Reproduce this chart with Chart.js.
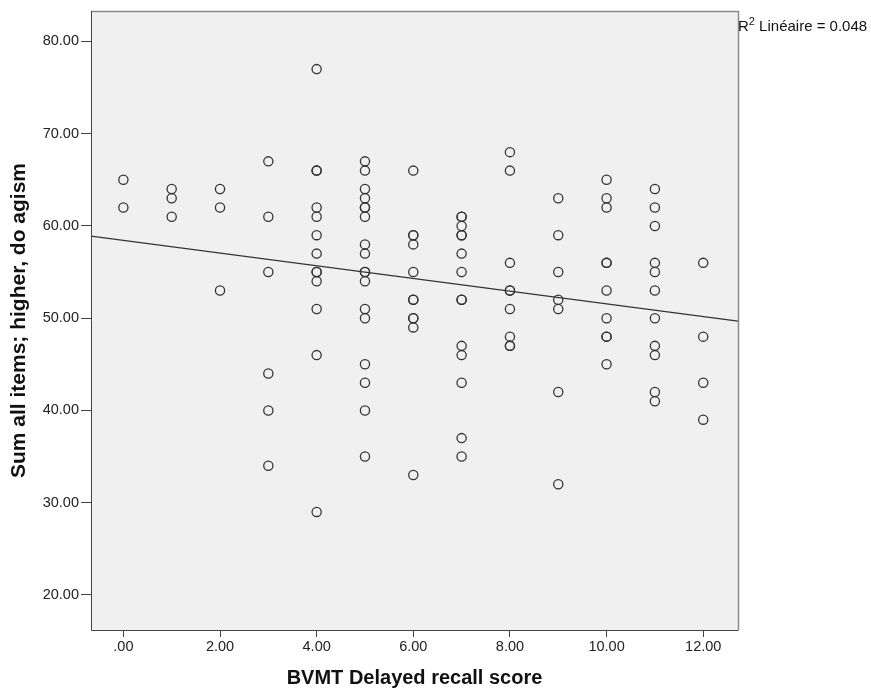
<!DOCTYPE html>
<html>
<head>
<meta charset="utf-8">
<script src="https://cdn.jsdelivr.net/npm/chart.js@4.4.1/dist/chart.umd.min.js"></script>
<style>
  html, body { margin: 0; padding: 0; background: #ffffff; }
  #wrap { width: 871px; height: 694px; position: relative; }
</style>
</head>
<body>
<div id="wrap"><canvas id="c" width="871" height="694"></canvas></div>
<script>
// BVMT delayed recall score (x) against ageism sum score (y), grouped by recall score
const recallScores = [0, 1, 2, 3, 4, 5, 6, 7, 8, 9, 10, 11, 12];
const ageismByScore = [
  [65, 62],
  [64, 63, 61],
  [64, 62, 53],
  [67, 61, 55, 44, 40, 34],
  [77, 66, 66, 62, 61, 59, 57, 55, 55, 54, 51, 46, 29],
  [67, 66, 64, 63, 62, 62, 61, 58, 57, 55, 55, 54, 51, 50, 45, 43, 40, 35],
  [66, 59, 59, 58, 55, 52, 52, 50, 50, 49, 33],
  [61, 61, 60, 59, 59, 57, 55, 52, 52, 47, 46, 43, 37, 35],
  [68, 66, 56, 53, 53, 51, 48, 47, 47],
  [63, 59, 55, 52, 51, 42, 32],
  [65, 63, 62, 56, 56, 53, 50, 48, 48, 45],
  [64, 62, 60, 56, 55, 53, 50, 47, 46, 42, 41],
  [56, 48, 43, 39]
];
const xTickValues = [0, 2, 4, 6, 8, 10, 12];
const yTickValues = [20, 30, 40, 50, 60, 70, 80];
const xTitle = 'BVMT Delayed recall score';
const yTitle = 'Sum all items; higher, do agism';
const fitLabel = 'Linéaire = 0.048';

const X_MIN = -0.67, X_MAX = 12.72, Y_MIN = 16.2, Y_MAX = 83.3;
const FONT = '"Liberation Sans", Arial, sans-serif';

const points = [];
recallScores.forEach((s, i) => ageismByScore[i].forEach(v => points.push({ x: s, y: v })));

// ordinary least squares fit line
const n = points.length;
const mx = points.reduce((a, p) => a + p.x, 0) / n;
const my = points.reduce((a, p) => a + p.y, 0) / n;
let sxy = 0, sxx = 0;
points.forEach(p => { sxy += (p.x - mx) * (p.y - my); sxx += (p.x - mx) ** 2; });
const slope = sxy / sxx;
const intercept = my - slope * mx;
const fitLine = [
  { x: X_MIN, y: intercept + slope * X_MIN },
  { x: X_MAX, y: intercept + slope * X_MAX }
];

const fmt = v => {
  const s = Number(v).toFixed(2);
  return s.startsWith('0.') ? s.slice(1) : s;
};

const plotFrame = {
  id: 'plotFrame',
  beforeDraw(chart) {
    const { ctx, chartArea: a } = chart;
    ctx.save();
    ctx.fillStyle = '#f0f0f0';
    ctx.fillRect(a.left, a.top, a.right - a.left, a.bottom - a.top);
    ctx.restore();
  },
  afterDraw(chart) {
    const { ctx, chartArea: a } = chart;
    ctx.save();
    ctx.strokeStyle = '#8a8a8a';
    ctx.lineWidth = 1.5;
    ctx.beginPath();
    ctx.moveTo(a.left, a.top + 0.5);
    ctx.lineTo(a.right + 0.5, a.top + 0.5);
    ctx.lineTo(a.right + 0.5, a.bottom);
    ctx.stroke();
    ctx.strokeStyle = '#444';
    ctx.lineWidth = 1;
    ctx.beginPath();
    ctx.moveTo(a.left + 0.5, a.top);
    ctx.lineTo(a.left + 0.5, a.bottom + 0.5);
    ctx.lineTo(a.right + 0.5, a.bottom + 0.5);
    ctx.stroke();
    // R² annotation
    ctx.fillStyle = '#111';
    ctx.textBaseline = 'alphabetic';
    ctx.font = '15px ' + FONT;
    const x0 = a.right, y0 = a.top + 20;
    ctx.fillText('R', x0, y0);
    const rw = ctx.measureText('R').width;
    ctx.font = '11px ' + FONT;
    ctx.fillText('2', x0 + rw, y0 - 6);
    const sw = ctx.measureText('2').width;
    ctx.font = '15px ' + FONT;
    ctx.fillText(' ' + fitLabel, x0 + rw + sw, y0);
    ctx.restore();
  }
};

new Chart(document.getElementById('c'), {
  type: 'scatter',
  data: {
    datasets: [
      {
        data: points,
        pointStyle: 'circle',
        pointRadius: 4.6,
        pointBorderWidth: 1.3,
        pointBorderColor: '#333',
        pointBackgroundColor: 'rgba(0,0,0,0)',
        order: 1
      },
      {
        type: 'line',
        data: fitLine,
        borderColor: '#333',
        borderWidth: 1.2,
        pointRadius: 0,
        fill: false,
        order: 2
      }
    ]
  },
  options: {
    responsive: false,
    animation: false,
    devicePixelRatio: 1,
    layout: { padding: { top: 11, right: 133, left: 0, bottom: 0 } },
    plugins: { legend: { display: false }, tooltip: { enabled: false } },
    scales: {
      x: {
        type: 'linear',
        min: X_MIN, max: X_MAX,
        afterBuildTicks: s => { s.ticks = xTickValues.map(v => ({ value: v })); },
        afterFit: s => { s.height = 64; },
        border: { display: false },
        grid: { drawOnChartArea: false, drawTicks: true, tickLength: 7, color: '#444', tickWidth: 1 },
        ticks: {
          callback: v => fmt(v),
          color: '#222',
          padding: 1,
          maxRotation: 0,
          font: { family: FONT, size: 14.5 }
        },
        title: {
          display: true,
          text: xTitle,
          color: '#111',
          padding: { top: 4, bottom: 4 },
          font: { family: FONT, size: 20, weight: 'bold' }
        }
      },
      y: {
        type: 'linear',
        min: Y_MIN, max: Y_MAX,
        afterBuildTicks: s => { s.ticks = yTickValues.map(v => ({ value: v })); },
        afterFit: s => { s.width = 91; },
        border: { display: false },
        grid: { drawOnChartArea: false, drawTicks: true, tickLength: 10, color: '#444', tickWidth: 1 },
        ticks: {
          callback: v => fmt(v),
          color: '#222',
          padding: 2,
          font: { family: FONT, size: 14.5 }
        },
        title: {
          display: true,
          text: yTitle,
          color: '#111',
          padding: { top: 7, bottom: 7 },
          font: { family: FONT, size: 21, weight: 'bold' }
        }
      }
    }
  },
  plugins: [plotFrame]
});
</script>
</body>
</html>
